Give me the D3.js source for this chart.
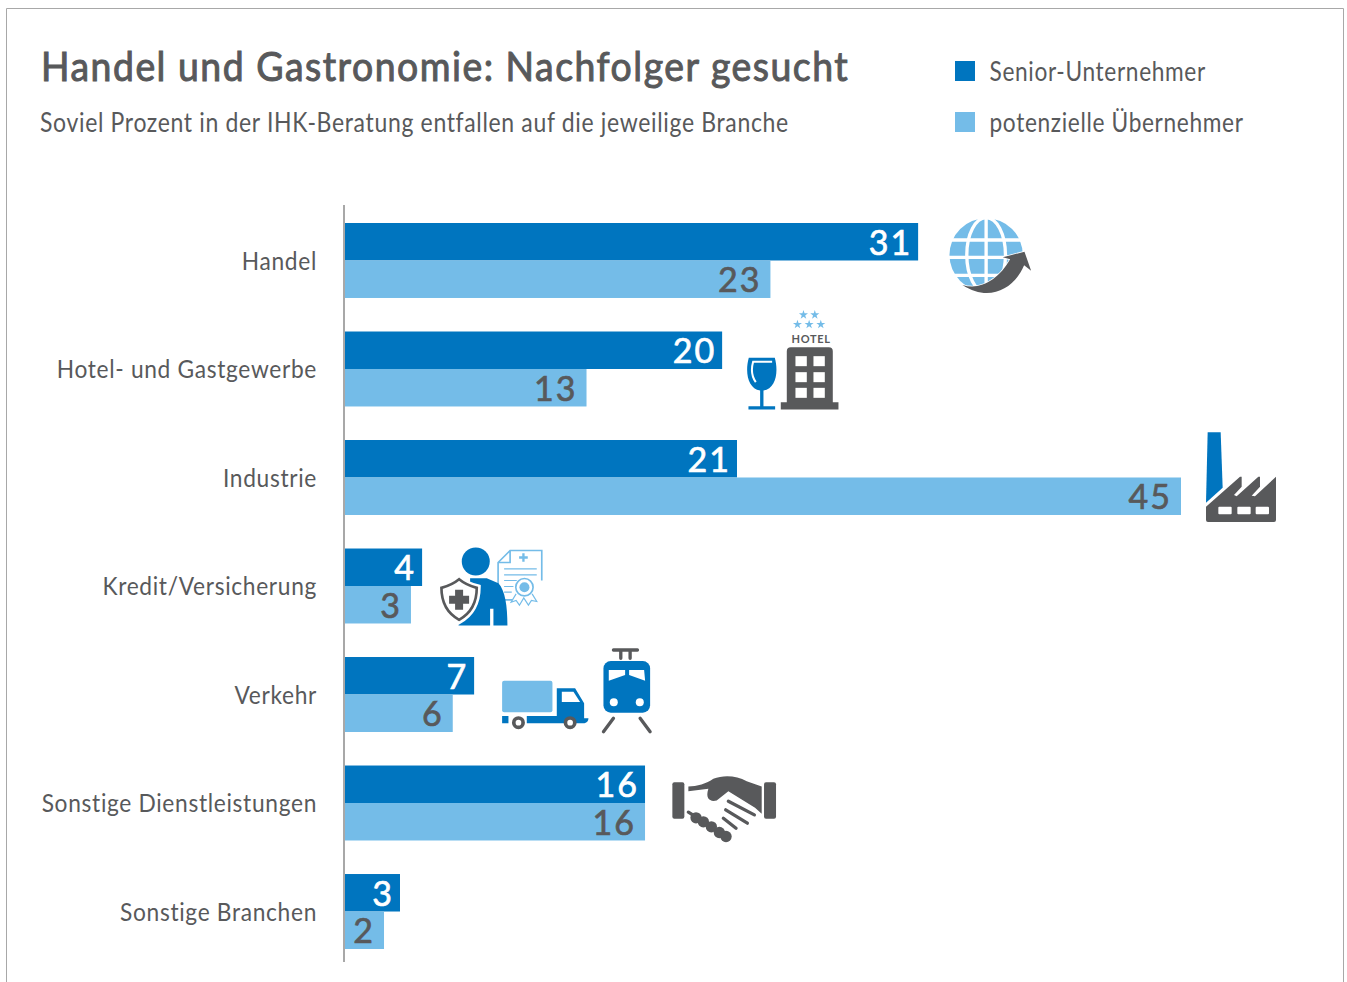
<!DOCTYPE html>
<html>
<head>
<meta charset="utf-8">
<script src="https://cdn.jsdelivr.net/npm/d3@7"></script>
<style>
    html, body { margin: 0; background: #fff; overflow: hidden; }
    text { font-family: Lato, sans-serif; fill: #58595b; }
</style>
</head>
<body>
<div id="chart"></div>
<script>
const categories = ["Handel", "Hotel- und Gastgewerbe", "Industrie", "Kredit/Versicherung", "Verkehr", "Sonstige Dienstleistungen", "Sonstige Branchen"];
const seriesNames = ["Senior-Unternehmer", "potenzielle Übernehmer"];
// printed labels
const seniorLabels = [31, 20, 21, 4, 7, 16, 3];
const successorLabels = [23, 13, 45, 3, 6, 16, 2];
// bar lengths, the printed labels are rounded
const seniorValues = [30.85, 20.3, 21.1, 4.15, 6.95, 16.15, 2.96];
const successorValues = [22.9, 13, 45, 3.55, 5.8, 16.15, 2.1];

const width = 1347, height = 982;
const darkBlue = "#0075bf", lightBlue = "#74bce8", grey = "#58595b";

const svg = d3.select("#chart").append("svg")
    .attr("width", width)
    .attr("height", height)
    .style("display", "block");

// the reference font is narrower than anything installed, so squeeze the text
function squeeze(sel, factor) {
    sel.each(function() {
        d3.select(this)
            .attr("textLength", this.getComputedTextLength() * factor)
            .attr("lengthAdjust", "spacingAndGlyphs");
    });
}

// frame, open at the bottom
svg.append("path")
    .attr("d", "M6.5 982V8.5H1343.5V982")
    .attr("fill", "none")
    .attr("stroke", "#a8a8a8")
    .attr("stroke-width", 1);

svg.append("text").attr("x", 41).attr("y", 80.5)
    .style("font-size", "40px").style("letter-spacing", "1.6px")
    .style("stroke", grey).style("stroke-width", "1px")
    .text("Handel und Gastronomie: Nachfolger gesucht")
    .call(squeeze, 0.935);
svg.append("text").attr("x", 40).attr("y", 131.5)
    .style("font-size", "26px").style("letter-spacing", "0.75px")
    .text("Soviel Prozent in der IHK-Beratung entfallen auf die jeweilige Branche")
    .call(squeeze, 0.884);

const legendY = d3.scalePoint().domain(seriesNames).range([71, 122]);
const legendColor = d3.scaleOrdinal().domain(seriesNames).range([darkBlue, lightBlue]);
const legend = svg.selectAll(".legend").data(seriesNames).enter().append("g")
    .attr("transform", d => "translate(955," + legendY(d) + ")");
legend.append("rect").attr("y", -10).attr("width", 20).attr("height", 20).attr("fill", d => legendColor(d));
legend.append("text").attr("x", 34.5).attr("y", 9.5)
    .style("font-size", "26px").style("letter-spacing", "0.75px")
    .text(d => d)
    .call(squeeze, 0.872);

const x = d3.scaleLinear().domain([0, 45]).range([345, 1181]);
const y = d3.scaleBand().domain(categories).range([223, 949]).paddingInner(0.309);
const ySub = d3.scaleBand().domain(seriesNames).range([0, y.bandwidth()]);

const rows = categories.map((c, i) => ({
    name: c,
    bars: [
        { series: seriesNames[0], value: seniorValues[i], label: seniorLabels[i] },
        { series: seriesNames[1], value: successorValues[i], label: successorLabels[i] }
    ]
}));

const row = svg.selectAll(".row").data(rows).enter().append("g")
    .attr("transform", d => "translate(0," + y(d.name) + ")");

row.selectAll("rect").data(d => d.bars).enter().append("rect")
    .attr("x", x(0))
    .attr("y", d => ySub(d.series))
    .attr("width", d => x(d.value) - x(0))
    .attr("height", ySub.bandwidth())
    .attr("fill", d => legendColor(d.series));

row.selectAll("text").data(d => d.bars).enter().append("text")
    .attr("x", d => x(d.value) - (d.series === seriesNames[0] ? 6 : 9))
    .attr("y", d => ySub(d.series) + ySub.bandwidth() / 2 + 13)
    .attr("text-anchor", "end")
    .style("font-size", "34px")
    .style("letter-spacing", "2px")
    .style("fill", d => d.series === seriesNames[0] ? "#fff" : grey)
    .style("stroke", d => d.series === seriesNames[0] ? "#fff" : grey)
    .style("stroke-width", "0.7px")
    .text(d => d.label);

const axis = svg.append("g")
    .attr("transform", "translate(344,0)")
    .call(d3.axisLeft(y).tickSize(0).tickPadding(27));
axis.select(".domain").remove();
axis.selectAll("text")
    .attr("dy", "0.36em")
    .style("font-size", "25.5px")
    .style("font-family", "Lato, sans-serif")
    .style("letter-spacing", "0.75px")
    .call(squeeze, 0.892);

svg.append("line")
    .attr("x1", 344).attr("x2", 344).attr("y1", 205).attr("y2", 962)
    .attr("stroke", "#a8a8a8").attr("stroke-width", 2);

// icons are drawn at 3x and scaled down
function icon(i, dx, dy) {
    return svg.append("g")
        .attr("transform", "translate(" + (x(Math.max(seniorValues[i], successorValues[i])) + dx) + "," + (y(categories[i]) + dy) + ") scale(" + 1 / 3 + ")");
}

// globe
const globe = icon(0, 12, -23);
globe.append("circle").attr("cx", 168).attr("cy", 165).attr("r", 110).attr("fill", lightBlue);
const globeLines = globe.append("g").attr("fill", "none").attr("stroke", "#fff").attr("stroke-width", 10);
globeLines.append("ellipse").attr("cx", 168).attr("cy", 165).attr("rx", 58).attr("ry", 112);
globeLines.append("path").attr("d", "M168 50V280M50 120H290M50 172H290M72 226H265");
globe.append("path")
    .attr("d", "M97 255C150 272 205 240 240 178L218 172L283 155L303 212L282 196C255 262 180 310 97 255Z")
    .attr("fill", grey).attr("stroke", "#fff").attr("stroke-width", 5).attr("paint-order", "stroke");

// wine glass and hotel
const hotel = icon(1, 8, -31);
hotel.selectAll(".star").data([[220, 43], [254, 43], [202, 72], [237, 72], [272, 72]]).enter().append("path")
    .attr("d", d3.symbol(d3.symbolStar, 230))
    .attr("transform", d => "translate(" + d + ")")
    .attr("fill", lightBlue);
hotel.append("text").attr("x", 243).attr("y", 127).attr("text-anchor", "middle")
    .style("font-size", "33px").style("font-weight", 700).style("letter-spacing", "2px").text("HOTEL");
hotel.append("path").attr("d", "M170 305V152Q170 140 182 140H296Q308 140 308 152V305H325V327H152V305Z").attr("fill", grey);
hotel.selectAll(".win").data([[196, 167], [250, 167], [196, 215], [250, 215], [196, 262], [250, 262]]).enter().append("rect")
    .attr("x", d => d[0]).attr("y", d => d[1]).attr("width", 34).attr("height", 30).attr("fill", "#fff");
hotel.append("path")
    .attr("d", "M56 172H134C146 215 137 264 100 270V317H135V327H55V317H90V270C53 264 44 215 56 172Z")
    .attr("fill", darkBlue);
hotel.append("path").attr("d", "M126 184H69C63 205 65 228 77 245").attr("fill", "none").attr("stroke", "#fff").attr("stroke-width", 6);

// factory
const factory = icon(2, 9, -15);
factory.append("path").attr("d", "M53 22H92L98 188L48 233Z").attr("fill", darkBlue);
factory.append("path")
    .attr("d", "M48 245L150 155H155V185L132 210L140 214L205 155H210V185L185 212L195 214L258 155V285Q258 291 252 291H54Q48 291 48 285Z")
    .attr("fill", grey);
factory.selectAll(".win").data([85, 142, 197]).enter().append("rect")
    .attr("x", d => d).attr("y", 245).attr("width", 40).attr("height", 23).attr("rx", 3).attr("fill", "#fff");

// certificate, person and shield
const person = icon(3, 8, -8);
const cert = person.append("g").attr("fill", "none").attr("stroke", lightBlue).attr("stroke-width", 5);
cert.append("path").attr("d", "M250 178H204V66L240 30H335V120M204 66H240V30");
cert.append("path").attr("d", "M222 85H320M222 103H320M222 120H260M222 138H250M222 155H245").attr("stroke-width", 3.5);
cert.append("path").attr("d", "M280 38V64M267 51H293").attr("stroke-width", 7);
cert.append("path").attr("d", "M258 160L243 185L258 180L268 194L281 172L295 194L304 180L320 183L306 160").attr("stroke-width", 3.5).attr("fill", "#fff");
cert.append("circle").attr("cx", 283).attr("cy", 140).attr("r", 26).attr("fill", "#fff");
person.append("circle").attr("cx", 283).attr("cy", 140).attr("r", 15).attr("fill", lightBlue);
person.append("circle").attr("cx", 137).attr("cy", 63).attr("r", 42).attr("fill", darkBlue);
person.append("path").attr("d", "M120 113H170L205 128C225 150 232 195 232 255H190V205H180V255H85L120 170Z").attr("fill", darkBlue);
person.append("path")
    .attr("d", "M87 110C70 125 50 133 28 138C28 180 40 220 87 245C134 220 146 180 146 138C124 133 104 125 87 110Z")
    .attr("fill", "#fff").attr("stroke", "#fff").attr("stroke-width", 12);
person.append("path")
    .attr("d", "M87 116C70 130 52 137 34 142C34 180 45 215 87 238C129 215 140 180 140 142C122 137 104 130 87 116Z")
    .attr("fill", "#fff").attr("stroke", grey).attr("stroke-width", 8);
person.append("path").attr("d", "M75 148H99V166H117V190H99V208H75V190H57V166H75Z").attr("fill", grey);

// truck and train
const transport = icon(4, 16, -17);
transport.append("rect").attr("x", 36).attr("y", 122).attr("width", 151).attr("height", 95).attr("rx", 6).attr("fill", lightBlue);
transport.append("path")
    .attr("d", "M200 145H255L282 190V235H295Q295 247 283 250H110V228H200ZM36 228H55V250H36Z")
    .attr("fill", darkBlue);
transport.append("path").attr("d", "M215 155H250L270 186H215Z").attr("fill", "#fff");
transport.selectAll(".wheel").data([85, 240]).enter().append("circle")
    .attr("cx", d => d).attr("cy", 248).attr("r", 14)
    .attr("fill", "#fff").attr("stroke", grey).attr("stroke-width", 11);
transport.append("rect").attr("x", 340).attr("y", 63).attr("width", 140).attr("height", 155).attr("rx", 22).attr("fill", darkBlue);
transport.append("path").attr("d", "M356 90H405V105L356 122ZM417 90H462L465 122L417 105Z").attr("fill", "#fff");
transport.selectAll(".lamp").data([371, 449]).enter().append("circle")
    .attr("cx", d => d).attr("cy", 187).attr("r", 12).attr("fill", "#fff");
transport.append("path")
    .attr("d", "M370 30H442M392 30V55M420 30V55M370 235L340 275M450 235L480 275")
    .attr("fill", "none").attr("stroke", grey).attr("stroke-width", 10).attr("stroke-linecap", "round");

// handshake
const shake = icon(5, 15, -5);
shake.selectAll(".cuff").data([37, 312]).enter().append("rect")
    .attr("x", d => d).attr("y", 65).attr("width", 36).attr("height", 110).attr("rx", 6).attr("fill", grey);
shake.append("path")
    .attr("d", "M85 78C110 78 140 70 160 55C190 42 230 45 260 62L305 78V160L285 142L205 92L170 120C150 125 135 115 145 85L85 92Z")
    .attr("fill", grey);
shake.append("path")
    .attr("d", "M85 155L103 166M205 122L283 163M197 148L262 188M190 173L228 203")
    .attr("fill", "none").attr("stroke", grey).attr("stroke-width", 10).attr("stroke-linecap", "round");
shake.selectAll(".knuckle").data([[108, 172], [130, 184], [154, 199], [178, 216], [198, 228]]).enter().append("circle")
    .attr("cx", d => d[0]).attr("cy", d => d[1]).attr("r", 17).attr("fill", grey);
</script>
</body>
</html>
